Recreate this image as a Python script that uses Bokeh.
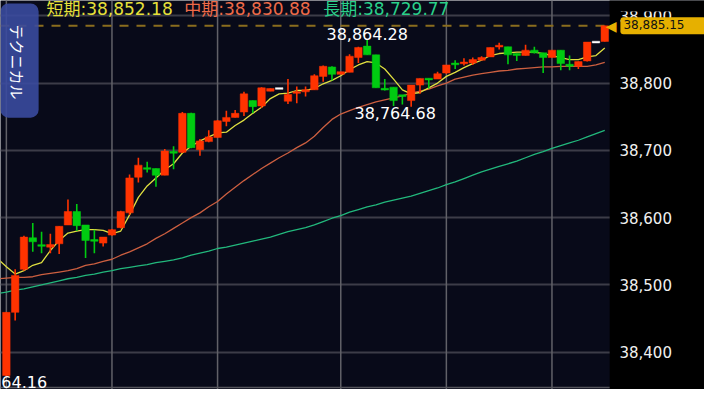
import math
from bokeh.plotting import figure
from bokeh.models import (ColumnDataSource, Range1d, FixedTicker, Grid, Span, Label, BoxAnnotation)
from bokeh.core.properties import value
from bokeh.embed import file_html
from bokeh.resources import INLINE

# ---------------- data ----------------
opens = [38365, 38459, 38523, 38570, 38559, 38556, 38561, 38589, 38609, 38589,
         38567, 38562, 38574, 38585, 38607, 38660, 38674, 38673, 38663, 38698,
         38697, 38755, 38701, 38713, 38719, 38743, 38749, 38757, 38774, 38766,
         38788, 38792, 38773, 38785, 38787, 38790, 38810, 38824, 38813, 38816,
         38838, 38855, 38842, 38792, 38794, 38782, 38774, 38797, 38807, 38806,
         38815, 38829, 38829, 38830, 38834, 38839, 38854, 38854, 38844, 38841,
         38849, 38845, 38838, 38849, 38828, 38825, 38833, 38861, 38862]
highs = [38459, 38523, 38573, 38592, 38579, 38576, 38587, 38627, 38620, 38589,
         38582, 38571, 38583, 38610, 38664, 38689, 38683, 38673, 38702, 38706,
         38757, 38756, 38717, 38730, 38745, 38759, 38760, 38787, 38774, 38794,
         38792, 38792, 38806, 38795, 38795, 38813, 38826, 38825, 38817, 38843,
         38854, 38864.28, 38842, 38806, 38794, 38782, 38797, 38807, 38807, 38817,
         38827, 38834, 38837, 38838, 38840, 38853, 38860, 38854, 38844, 38857,
         38854, 38845, 38849, 38849, 38841, 38832, 38861, 38861, 38885.15]
lows = [38364.16, 38447, 38521, 38549, 38547, 38547, 38546, 38589, 38580, 38540,
        38547, 38557, 38573, 38584, 38604, 38652, 38667, 38646, 38663, 38672,
        38696, 38703, 38692, 38712, 38719, 38736, 38749, 38751, 38755, 38763,
        38788, 38792, 38769, 38770, 38780, 38790, 38802, 38804, 38813, 38816,
        38830, 38842, 38793, 38789, 38766, 38768, 38764.68, 38784, 38792, 38806,
        38814, 38821, 38826, 38827, 38834, 38839, 38850, 38828, 38833, 38841,
        38844, 38815, 38838, 38819, 38819, 38821, 38832, 38861, 38862]
closes = [38459, 38514, 38571, 38564, 38558, 38560, 38587, 38609, 38588, 38566,
          38565, 38571, 38582, 38609, 38659, 38678, 38672, 38663, 38699, 38696,
          38755, 38704, 38714, 38720, 38744, 38749, 38755, 38784, 38765, 38793,
          38792, 38792, 38783, 38787, 38790, 38811, 38825, 38813, 38817, 38840,
          38853, 38842, 38793, 38790, 38774, 38781, 38797, 38807, 38805, 38814,
          38827, 38828, 38831, 38835, 38838, 38853, 38856, 38842, 38841, 38849,
          38845, 38838, 38849, 38829, 38825, 38832, 38861, 38861, 38885.15]

# moving averages, bar index -1 .. 68
ma_index = list(range(-1, 69))
ma_short = [38539, 38527, 38516, 38521, 38529, 38533, 38551, 38566, 38577, 38580,
            38582, 38582, 38581, 38576, 38580, 38604, 38630, 38647, 38659, 38671,
            38680, 38696, 38706, 38714, 38720, 38726, 38727, 38737, 38745, 38755,
            38764, 38777, 38784, 38785, 38789, 38789, 38792, 38799, 38804, 38811,
            38820, 38827, 38832, 38830, 38821, 38806, 38790, 38784, 38786, 38793,
            38800, 38810, 38816, 38823, 38829, 38834, 38841, 38844, 38845, 38846,
            38846, 38846, 38844, 38841, 38838, 38835, 38835, 38839, 38841, 38852.18]
ma_mid = [38509, 38510, 38511, 38511, 38512, 38515, 38517, 38519, 38521, 38524,
          38529, 38531, 38535, 38538, 38544, 38549, 38555, 38561, 38569, 38576,
          38584, 38592, 38600, 38607, 38616, 38624, 38635, 38645, 38655, 38664,
          38673, 38681, 38689, 38696, 38704, 38711, 38721, 38734, 38746, 38754,
          38759, 38764, 38768, 38772, 38775, 38778, 38781, 38785, 38788, 38791,
          38796, 38800, 38806, 38809, 38812, 38814, 38816, 38818, 38819, 38821,
          38822, 38823, 38824, 38824, 38825, 38825, 38825, 38825, 38827, 38830.88]
ma_long = [38487, 38489, 38492, 38494, 38497, 38500, 38503, 38506, 38509, 38511,
           38514, 38516, 38519, 38521, 38524, 38526, 38528, 38530, 38533, 38535,
           38537, 38540, 38544, 38547, 38550, 38554, 38556, 38559, 38562, 38565,
           38568, 38571, 38575, 38579, 38582, 38585, 38589, 38594, 38599, 38603,
           38608, 38612, 38616, 38619, 38623, 38626, 38629, 38632, 38636, 38640,
           38644, 38649, 38653, 38658, 38663, 38668, 38672, 38676, 38680, 38684,
           38689, 38694, 38698, 38703, 38707, 38711, 38715, 38720, 38725, 38729.77]

session_starts = [0, 12, 24, 38, 50, 62]
y_ticks = [38400, 38500, 38600, 38700, 38800, 38900]
legend_names = ["短期", "中期", "長期"]
marked_bars = [0, 41, 46]          # low, high, low
marked_kind = ["low", "high", "low"]

# ---------------- layout helpers (reference pixel -> data) ----------------
def px_x(px):
    return (px - 6) / 9.0

def px_y(py):
    return 38400 + (366 - py) / 0.7

UP, DOWN, FLAT = "#ff3300", "#00cc11", "#ffffff"
FONT = "DejaVu Sans"

n = len(closes)
idx = list(range(n))
colors, tops, bottoms = [], [], []
for o, c in zip(opens, closes):
    colors.append(UP if c > o else (DOWN if c < o else FLAT))
    t, b = max(o, c), min(o, c)
    if t - b < 2.5:
        m = (t + b) / 2
        t, b = m + 1.25, m - 1.25
    tops.append(t)
    bottoms.append(b)

src = ColumnDataSource(dict(x=idx, high=highs, low=lows, top=tops, bottom=bottoms, color=colors))

PLOT_RIGHT = px_x(623)
p = figure(width=704, height=389,
           x_range=Range1d(px_x(0), px_x(720)),
           y_range=Range1d(px_y(405), px_y(0)),
           x_axis_location=None, y_axis_location=None,
           output_backend="svg", toolbar_location=None,
           min_border_left=0, min_border_right=0, min_border_top=0, min_border_bottom=0)

p.background_fill_color = "#080a19"
p.border_fill_color = "#000000"
p.outline_line_color = None
p.grid.visible = False   # hide default grids

# grid
p.add_layout(Grid(dimension=1, ticker=FixedTicker(ticks=y_ticks),
                  grid_line_color="#3c3c48", grid_line_width=2))
for s in session_starts:
    p.add_layout(Span(location=s, dimension="height", line_color="#616168",
                      line_width=1.5, level="underlay"))
p.add_layout(Span(location=px_y(403), dimension="width", line_color="#55555c",
                  line_width=1.5, level="underlay"))

# last price dashed line
p.add_layout(Span(location=closes[-1], dimension="width", line_color="#8a6d1e",
                  line_dash="9 8", line_width=2, level="underlay"))

# moving averages
p.line(ma_index, ma_long, line_color="#22b87c", line_width=1.3)
p.line(ma_index, ma_mid, line_color="#cc5f40", line_width=1.3)
p.line(ma_index, ma_short, line_color="#e0e040", line_width=1.3)

# candles
p.segment(x0="x", x1="x", y0="low", y1="high", line_color="color", line_width=1.6, source=src)
p.vbar(x="x", width=0.85, top="top", bottom="bottom", fill_color="color",
       line_color="color", line_width=0.5, source=src)

# price scale panel on the right
p.quad(left=[PLOT_RIGHT], right=[px_x(720)], top=[px_y(0)], bottom=[px_y(405)],
       fill_color="#000000", line_color=None)
p.text(x=[px_x(633)] * len(y_ticks), y=y_ticks, text=[f"{t:,}" for t in y_ticks],
       text_align="left", text_baseline="middle", text_color="#f0f0f0",
       text_font=value(FONT), text_font_size="15px")
p.quad(left=[PLOT_RIGHT], right=[px_x(720)], top=[px_y(0)], bottom=[px_y(11.5)],
       fill_color="#000000", line_color=None)

# high / low marks
for b, kind in zip(marked_bars, marked_kind):
    if kind == "high":
        p.add_layout(Label(x=b, y=highs[b], text=f"{highs[b]:,.2f}", text_align="center",
                           text_baseline="bottom", text_color="#ffffff", text_font=FONT,
                           text_font_size="16px"))
    else:
        off = -16 if b > 0 else 0
        p.add_layout(Label(x=b, y=lows[b], text=f"{lows[b]:,.2f}", text_align="center",
                           text_baseline="top", text_color="#ffffff", text_font=FONT,
                           text_font_size="16px", x_offset=off))

# header legend
legend_vals = [ma_short[-1], ma_mid[-1], ma_long[-1]]
legend_cols = ["#e6e03a", "#ee6a48", "#2ad08a"]
legend_px = [47, 188, 330]
for name, v, col, lx in zip(legend_names, legend_vals, legend_cols, legend_px):
    p.add_layout(Label(x=px_x(lx), y=px_y(8.5), text=f"{name}:{v:,.2f}", text_align="left",
                       text_baseline="middle", text_color=col,
                       text_font="DejaVu Sans, Noto Sans CJK JP", text_font_size="17px"))

# side tab
p.add_layout(BoxAnnotation(left=px_x(0), right=px_x(39), top=px_y(3), bottom=px_y(122),
                           fill_color="#3a4a9e", fill_alpha=0.9, line_color=None,
                           border_radius=8))
p.add_layout(Label(x=px_x(17), y=px_y(64), text="テクニカル", angle=-math.pi / 2,
                   text_align="center", text_baseline="middle", text_color="#ffffff",
                   text_font="Noto Sans CJK JP", text_font_size="15px"))

# last price tag on the price scale
p.add_layout(Label(x=px_x(630), y=closes[-1], text="◀", text_align="right",
                   text_baseline="middle", text_color="#e6b000",
                   text_font=FONT, text_font_size="14px"))
p.add_layout(Label(x=px_x(634), y=closes[-1], text=f"{closes[-1]:,.2f}", text_align="left",
                   text_baseline="middle", text_color="#111111", text_font=FONT,
                   text_font_size="12px", background_fill_color="#e6b000",
                   padding=(3, 22, 3, 5), border_radius=3))

open("out.html", "w").write(file_html(p, INLINE))
